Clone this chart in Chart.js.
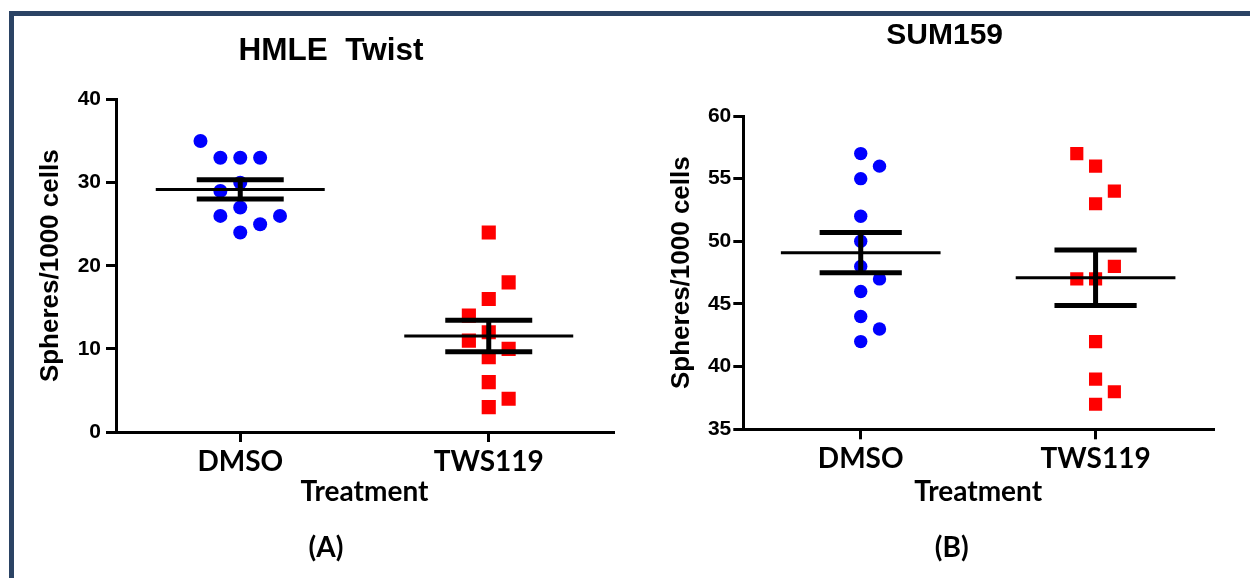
<!DOCTYPE html>
<html><head><meta charset="utf-8">
<script src="https://cdn.jsdelivr.net/npm/chart.js@4.4.1/dist/chart.umd.min.js"></script>
<style>
html,body{margin:0;padding:0;background:#fff;width:1250px;height:578px;overflow:hidden;position:relative;}
#frame{position:absolute;left:9px;top:11px;width:1300px;height:700px;border-top:5px solid #2b4364;border-left:5px solid #2b4364;}
.wrap{position:absolute;top:0;height:578px;width:625px;}
</style></head><body>
<div id="frame"></div>
<div class="wrap" style="left:0"><canvas id="cA" width="625" height="578"></canvas></div>
<div class="wrap" style="left:625px"><canvas id="cB" width="625" height="578"></canvas></div>
<script>
// ---- data ----
const categories = ['DMSO', 'TWS119'];
const hmleDMSO    = [35, 33, 33, 33, 30, 29, 27, 26, 26, 25, 24];
const hmleDMSOCol = [-2, -1, 0, 1, 0, -1, 0, -1, 2, 1, 0];
const hmleTWS     = [24, 18, 16, 14, 12, 11, 10, 9, 6, 4, 3];
const hmleTWSCol  = [0, 1, 0, -1, 0, -1, 1, 0, 0, 1, 0];
const sumDMSO     = [57, 56, 55, 52, 50, 48, 47, 46, 44, 43, 42];
const sumDMSOCol  = [0, 1, 0, 0, 0, 0, 1, 0, 0, 1, 0];
const sumTWS      = [57, 56, 54, 53, 48, 47, 47, 42, 39, 38, 37];
const sumTWSCol   = [-1, 0, 1, 0, 1, -1, 0, 0, 0, 1, 0];
const yTicksA = [0, 10, 20, 30, 40];
const yTicksB = [35, 40, 45, 50, 55, 60];

// ---- helpers ----
const JITTER = 0.08, MEAN_HW = 0.34, CAP_HW = 0.175;
const mean = a => a.reduce((s, v) => s + v, 0) / a.length;
const sem = a => { const m = mean(a); return Math.sqrt(a.reduce((s, v) => s + (v - m) ** 2, 0) / (a.length - 1) / a.length); };
const ARIAL = 'Liberation Sans', CAL = 'Lato';

const textPlugin = {
  id: 'panelText',
  afterDraw(chart, args, opts) {
    const ctx = chart.ctx;
    (opts.items || []).forEach(it => {
      ctx.save();
      ctx.font = it.font; ctx.fillStyle = '#000';
      ctx.textAlign = 'center'; ctx.textBaseline = 'alphabetic';
      ctx.fillText(it.text, it.x, it.y);
      ctx.restore();
    });
  }
};

function groupDatasets(vals, cols, g, color, style, radius) {
  const m = mean(vals), s = sem(vals);
  const line = (data, w) => ({ type: 'scatter', showLine: true, data, borderColor: '#000', borderWidth: w, pointRadius: 0, order: 1, borderCapStyle: 'butt' });
  return [
    { type: 'scatter', data: vals.map((v, i) => ({ x: g + cols[i] * JITTER, y: v })),
      pointStyle: style, pointRadius: radius, backgroundColor: color, borderWidth: 0, order: 2 },
    line([{ x: g - MEAN_HW, y: m }, { x: g + MEAN_HW, y: m }], 3),
    line([{ x: g - CAP_HW, y: m + s }, { x: g + CAP_HW, y: m + s }], 5),
    line([{ x: g - CAP_HW, y: m - s }, { x: g + CAP_HW, y: m - s }], 5),
    line([{ x: g, y: m - s }, { x: g, y: m + s }], 5)
  ];
}

function makeChart(id, p) {
  return new Chart(document.getElementById(id), {
    type: 'scatter',
    data: { datasets: [
      ...groupDatasets(p.d1, p.c1, 1, '#0000ff', 'circle', p.rc),
      ...groupDatasets(p.d2, p.c2, 2, '#ff0000', 'rect', p.rr)
    ] },
    options: {
      responsive: false, animation: false, devicePixelRatio: 1,
      layout: { padding: { top: p.top, right: p.right, left: 0, bottom: 0 } },
      plugins: { legend: { display: false }, tooltip: { enabled: false }, panelText: { items: p.texts } },
      scales: {
        x: {
          type: 'linear', min: 0.5, max: 2.5,
          afterBuildTicks: s => { s.ticks = categories.map((c, i) => ({ value: i + 1 })); },
          ticks: { callback: v => categories[v - 1], color: '#000', padding: 3, maxRotation: 0, autoSkip: false,
                   font: { family: CAL, weight: 'bold', size: 28 } },
          grid: { drawOnChartArea: false, drawTicks: true, tickLength: 10, tickWidth: 3, tickColor: '#000', lineWidth: 3, color: '#000' },
          border: { display: true, color: '#000', width: 3 },
          title: { display: true, text: 'Treatment', color: '#000', font: { family: CAL, weight: 'bold', size: 28 }, padding: { top: 0, bottom: 69 } },
          afterFit: s => { s.height = p.xh; }
        },
        y: {
          min: p.ticks[0], max: p.ticks[p.ticks.length - 1],
          afterBuildTicks: s => { s.ticks = p.ticks.map(v => ({ value: v })); },
          ticks: { color: '#000', padding: p.tpad, font: { family: ARIAL, weight: 'bold', size: 21 } },
          grid: { drawOnChartArea: false, drawTicks: true, tickLength: 10, tickWidth: 3, tickColor: '#000', lineWidth: 3, color: '#000' },
          border: { display: true, color: '#000', width: 3 },
          title: { display: true, text: 'Spheres/1000 cells', color: '#000', font: { family: ARIAL, weight: 'bold', size: 26 }, padding: { top: p.ytp, bottom: 0 } },
          afterFit: s => { s.width = p.yw; }
        }
      }
    },
    plugins: [textPlugin]
  });
}

makeChart('cA', {
  d1: hmleDMSO, c1: hmleDMSOCol, d2: hmleTWS, c2: hmleTWSCol, rc: 7, rr: 10,
  ticks: yTicksA, top: 99.5, right: 12, yw: 116, xh: 146, tpad: 5, ytp: 35,
  texts: [
    { text: 'HMLE  Twist', x: 331, y: 60, font: 'bold 31.5px "Liberation Sans"' },
    { text: '(A)', x: 326, y: 557, font: 'bold 28px Lato' }
  ]
});
makeChart('cB', {
  d1: sumDMSO, c1: sumDMSOCol, d2: sumTWS, c2: sumTWSCol, rc: 6.7, rr: 9.3,
  ticks: yTicksB, top: 116, right: 37, yw: 118.3, xh: 148.7, tpad: 2, ytp: 41,
  texts: [
    { text: 'SUM159', x: 319.7, y: 44, font: 'bold 30px "Liberation Sans"' },
    { text: '(B)', x: 326.7, y: 557, font: 'bold 28px Lato' }
  ]
});
</script>
</body></html>
